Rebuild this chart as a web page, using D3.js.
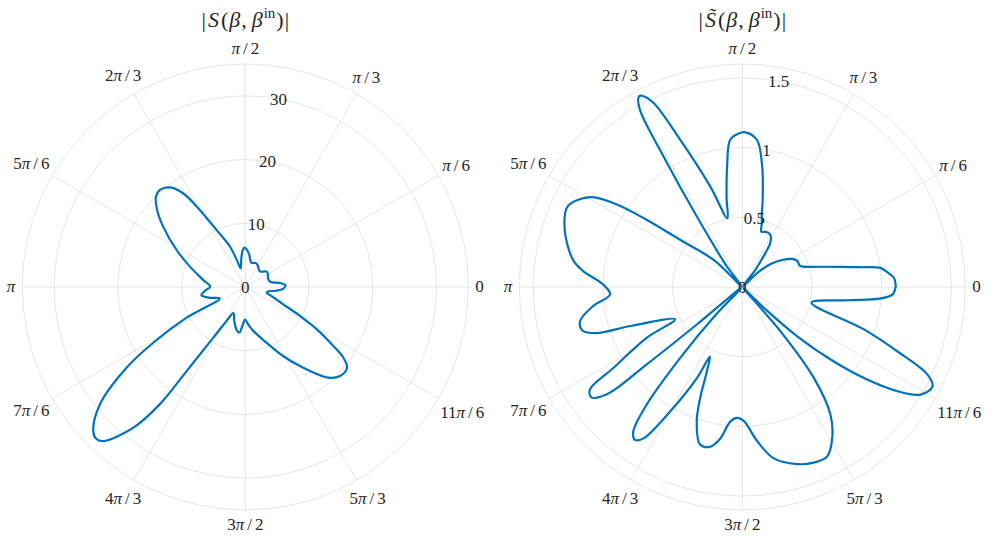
<!DOCTYPE html>
<html>
<head>
    <meta charset="utf-8" />
    <title></title>
    <style>
        body { margin: 0; background: #fff; }
        text { font-family: "Liberation Serif", "DejaVu Serif", serif; fill: #262626; }
    </style>
</head>
<body>
    <div id="chart"></div>

    <script src="https://d3js.org/d3.v7.min.js"></script>

    <script>
        // angles in degrees
        const leftTheta = [0, 2.8, 6, 12, 18, 24.8, 30, 35.7, 41, 46.3, 52, 58, 65.7, 71, 75.4, 80, 83, 88, 91.4, 94, 98,
            104, 106.5, 110.8, 116.7, 120.5, 123.5, 127.1, 131.3, 134.7, 138.8, 143.7, 151.7, 159.8, 170.5, 179.5,
            185, 190.5, 197, 204, 207.6, 211.2, 214.2, 218.9, 223.5, 225.5, 227.3, 231.5, 233.9, 235.1, 237.7,
            241, 245.5, 252, 258, 262.5, 266, 269.5, 275, 280.3, 291, 298.8, 304.7, 312.5, 316.8, 321.5, 324.2,
            326.2, 329.4, 332.1, 335.5, 341, 345, 348.5, 353, 357];
        const leftValue = [6.2, 6.3, 5.6, 4.0, 3.8, 3.9, 4.1, 4.15, 3.7, 3.35, 3.45, 3.8, 4.1, 4.0, 3.9, 4.4, 5.1, 5.9, 6.2, 5.8, 4.5,
            3.0, 3.9, 6.8, 10.0, 14.0, 17.6, 19.6, 20.3, 19.95, 18.4, 16.0, 12.25, 9.26, 6.7, 5.5,
            6.3, 7.0, 5.8, 4.4, 10.4, 16.9, 22.5, 29.3, 32.9, 33.4, 32.9, 28.2, 22.8, 16.1, 9.4,
            6.2, 4.5, 5.6, 6.8, 7.2, 6.0, 5.1, 6.0, 7.0, 9.4, 12.4, 15.1, 19.3, 20.4, 20.4, 19.0,
            16.6, 13.0, 9.7, 6.55, 4.3, 3.5, 3.6, 4.8, 5.9];

        const rightTheta = [0, 1, 3.5, 5.6, 7.9, 9.5, 11.6, 14, 16.2, 18.5, 20.4, 25.4, 29.4, 34.2, 38.6, 43, 47.5,
            52.6, 55.7, 57.4, 61, 63.3, 67, 71, 73, 75, 76.8, 80.7, 84.3, 88.9, 91.5, 94.7, 97.2, 100, 102.3,
            107.7, 112.9, 115.8, 117.7, 118.5, 120, 121.1, 122.8, 127, 131, 136.6, 142.8, 144.9, 146.9, 149.5,
            155.2, 162, 170.9, 174.2, 178.9, 183.2, 187.3, 191.9, 195.1, 197.5, 199.2, 205.7, 208, 212.1, 214,
            216.2, 218.4, 219, 219.5, 222.5, 226.3, 228.8, 230.9, 233, 234.9, 236.8, 239.9, 243.5, 245, 247.2,
            249.2, 251.3, 255, 258.6, 261.7, 264.9, 267.7, 270.6, 275.5, 280.4, 287.2, 292.1, 296.6, 300.8,
            304.7, 308.2, 310.8, 313.5, 316, 318.1, 320.6, 323.2, 326.1, 328.9, 332.4, 334.7, 337.5, 340.8,
            347.3, 352.8, 355.3, 357.2];
        const rightValue = [1.10, 1.10, 1.09, 1.05, 1.0, 0.86, 0.72, 0.60, 0.52, 0.46, 0.44, 0.436, 0.41, 0.345, 0.27, 0.16, 0.01,
            0.15, 0.29, 0.37, 0.42, 0.43, 0.43, 0.42, 0.48, 0.54, 0.64, 0.88, 1.06, 1.11, 1.10, 1.06, 0.87, 0.65, 0.505,
            0.76, 1.15, 1.47, 1.55, 1.555, 1.47, 1.09, 0.60, 0.18, 0.01, 0.28, 0.56, 0.84, 1.10, 1.27,
            1.38, 1.34, 1.23, 1.15, 1.0, 0.95, 1.08, 1.19, 1.19, 1.10, 0.85, 0.535, 0.78, 1.09, 1.32,
            1.34, 1.24, 0.88, 0.42, 0.01, 0.28, 0.68, 1.09, 1.30, 1.34, 1.30, 1.03, 0.73, 0.55, 0.655,
            0.85, 1.02, 1.17, 1.17, 1.10, 0.97, 0.94, 0.96, 1.11, 1.25, 1.33, 1.36, 1.36, 1.26,
            1.11, 0.83, 0.42, 0.01, 0.21, 0.53, 0.82, 1.09, 1.34, 1.495, 1.54, 1.47, 1.20, 0.925,
            0.51, 0.76, 1.0, 1.08];

        const angleTicks = [0, 30, 60, 90, 120, 150, 180, 210, 240, 270, 300, 330];
        const angleLabels = ["0", "π/6", "π/3", "π/2", "2π/3", "5π/6", "π", "7π/6", "4π/3", "3π/2", "5π/3", "11π/6"];
        const leftRTicks = [0, 10, 20, 30];
        const leftRMax = 35;
        const rightRTicks = [0, 0.5, 1, 1.5];
        const rightRMax = 1.6;

        let width = 994;
        let height = 542;
        let R = 223;

        let svg = d3.select("#chart")
            .append("svg")
            .attr("width", width)
            .attr("height", height);

        // writes a label with an italic pi and a roomier slash
        const piText = (sel, label) => {
            let parts = label.split("π");
            sel.append("tspan").text(parts[0]);
            if (parts.length > 1) {
                sel.append("tspan").attr("font-style", "italic").text("π");
                let rest = parts[1].split("/");
                if (rest.length > 1) {
                    sel.append("tspan").attr("dx", 3).text("/");
                    sel.append("tspan").attr("dx", 3).text(rest[1]);
                }
            }
        };

        const drawTitle = (g, tilde) => {
            let t = g.append("text")
                .attr("x", 0)
                .attr("y", -R - 37)
                .attr("text-anchor", "middle")
                .attr("font-size", 22);
            t.append("tspan").text("|");
            t.append("tspan").attr("dx", 2).attr("font-style", "italic").text(tilde ? "S\u0303" : "S");
            t.append("tspan").attr("dx", 2).text("(");
            t.append("tspan").attr("dx", 1).attr("font-style", "italic").text("β");
            t.append("tspan").attr("dx", 1).text(",");
            t.append("tspan").attr("dx", 5).attr("font-style", "italic").text("β");
            t.append("tspan").attr("dx", 1).attr("font-size", 15).attr("dy", -9).text("in");
            t.append("tspan").attr("dx", 1).attr("dy", 9).text(")");
            t.append("tspan").attr("dx", 1).text("|");
        };

        const drawPolar = (cx, cy, rMax, rTicks, theta, values, tilde) => {
            let g = svg.append("g").attr("transform", `translate(${cx},${cy})`);
            let rScale = d3.scaleLinear().domain([0, rMax]).range([0, R]);

            // grid circles
            g.selectAll("circle.ring")
                .data(rTicks.filter(d => d > 0).concat([rMax]))
                .enter()
                .append("circle")
                .attr("r", d => rScale(d))
                .attr("fill", "none")
                .attr("stroke", "#dedede")
                .attr("stroke-width", 0.8);

            // spokes
            g.selectAll("line.spoke")
                .data(angleTicks)
                .enter()
                .append("line")
                .attr("x1", 0)
                .attr("y1", 0)
                .attr("x2", d => R * Math.cos(d * Math.PI / 180))
                .attr("y2", d => -R * Math.sin(d * Math.PI / 180))
                .attr("stroke", "#dedede")
                .attr("stroke-width", 0.8);

            let pts = theta.map((t, i) => [t, values[i]]);
            let line = d3.lineRadial()
                .angle(d => Math.PI / 2 - d[0] * Math.PI / 180)
                .radius(d => rScale(d[1]))
                .curve(d3.curveCatmullRomClosed.alpha(0.5));

            g.append("path")
                .datum(pts)
                .attr("d", line)
                .attr("fill", "none")
                .attr("stroke", "#0072BD")
                .attr("stroke-width", 2.2)
                .attr("stroke-linejoin", "round");

            // radial tick labels along 80 degrees
            let a80 = 80 * Math.PI / 180;
            g.selectAll("text.rtick")
                .data(rTicks)
                .enter()
                .append("text")
                .attr("x", d => rScale(d) * Math.cos(a80))
                .attr("y", d => -rScale(d) * Math.sin(a80))
                .attr("dy", "0.35em")
                .attr("text-anchor", "middle")
                .attr("font-size", 17)
                .text(d => d);

            // angle labels outside the ring
            angleTicks.forEach((a, i) => {
                let t = g.append("text")
                    .attr("text-anchor", "middle")
                    .attr("dy", "0.32em")
                    .attr("font-size", 17);
                piText(t, angleLabels[i]);
                let w = t.node().getComputedTextLength();
                let c = Math.cos(a * Math.PI / 180);
                let s = Math.sin(a * Math.PI / 180);
                let rr = R + 7 + Math.abs(c) * w / 2 + Math.abs(s) * 8;
                t.attr("x", rr * c).attr("y", -rr * s);
            });

            drawTitle(g, tilde);
        };

        drawPolar(245.3, 287, leftRMax, leftRTicks, leftTheta, leftValue, false);
        drawPolar(742.3, 287, rightRMax, rightRTicks, rightTheta, rightValue, true);
    </script>
</body>
</html>
